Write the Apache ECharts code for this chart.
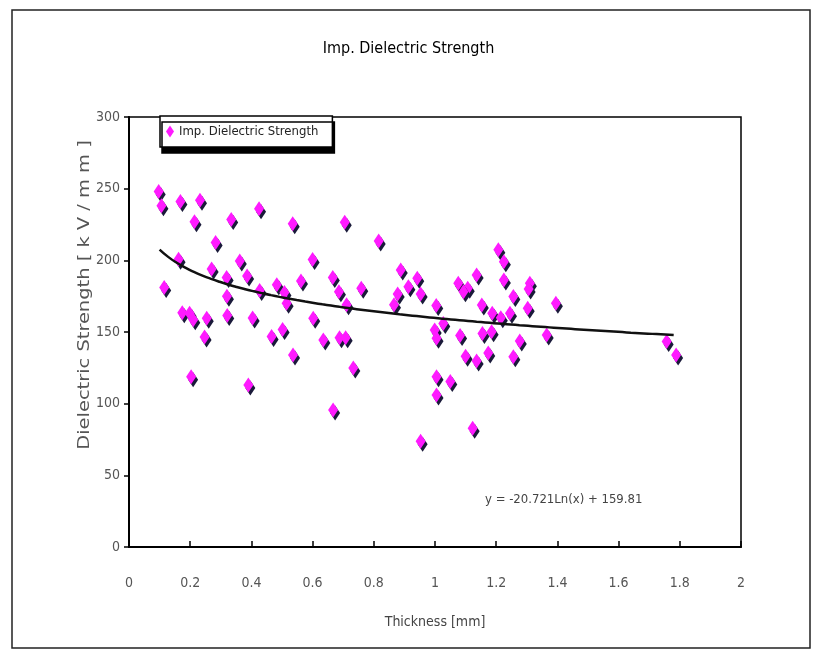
<!DOCTYPE html>
<html>
<head>
<meta charset="utf-8">
<script src="https://cdn.jsdelivr.net/npm/echarts@6/dist/echarts.min.js"></script>
<style>html,body{margin:0;padding:0;background:#fff}#c{width:817px;height:654px}</style>
</head>
<body>
<div id="c"></div>
<script>
// ---- data ----
var titleText = 'Imp. Dielectric Strength';
var seriesName = 'Imp. Dielectric Strength';
var xAxisName = 'Thickness [mm]';
var yAxisName = 'Dielectric Strength [ k V / m m ]';
var xTicks = [0, 0.2, 0.4, 0.6, 0.8, 1, 1.2, 1.4, 1.6, 1.8, 2];
var yTicks = [0, 50, 100, 150, 200, 250, 300];

var thickness = [
  0.097, 0.106, 0.168, 0.232, 0.214, 0.334, 0.425, 0.283, 0.162, 0.270,
  0.362, 0.319, 0.386, 0.427, 0.483, 0.115, 0.320, 0.174, 0.198, 0.210,
  0.254, 0.321, 0.404, 0.247, 0.466, 0.502, 0.203, 0.390,
  0.535, 0.705, 0.816, 0.600, 0.562, 0.666, 0.686, 0.759, 0.888, 0.942,
  0.913, 0.953, 0.878, 0.866, 0.711, 0.508, 0.515, 0.602, 0.635, 0.688,
  0.708, 0.536, 0.733, 0.667, 0.953,
  1.207, 1.225, 1.136, 1.076, 1.107, 1.093, 1.225, 1.310, 1.306, 1.256,
  1.395, 1.004, 1.153, 1.187, 1.215, 1.245, 1.303, 1.027, 0.999, 1.005,
  1.082, 1.155, 1.185, 1.277, 1.365, 1.100, 1.136, 1.174, 1.256, 1.005,
  1.050, 1.005, 1.123, 1.757, 1.788
];
var strength = [
  248, 238, 241, 242, 227, 228.5, 236, 212.5, 200.7, 194,
  199.5, 188, 189, 179, 183, 181, 175, 163.5, 163, 158.5,
  159.6, 161.5, 159.8, 146.5, 146.8, 151.8, 118.8, 113,
  225.6, 226.5, 213.5, 200.5, 185.5, 188, 178, 180.5, 193.3, 187.5,
  181.5, 176.5, 176.5, 169, 169, 177.5, 170, 159.6, 144.5, 146,
  146, 134, 124.8, 95.6, 73.8,
  207.3, 199, 189.8, 184, 180.5, 178, 186.3, 184, 180, 174.7,
  170, 168.5, 168.9, 163, 160, 163, 166.5, 156, 151.4, 145.6,
  147.5, 149, 150.2, 143.8, 147.9, 133, 129.8, 135.4, 132.8, 118.8,
  115.4, 106.1, 82.8, 143.3, 134
];
// logarithmic trendline printed on the chart: y = a*ln(x) + b
var trendCoef = [-20.721, 159.81];
var trendRange = [0.1, 1.78];

// ---- build ----
var scatterData = thickness.map(function (x, i) { return [x, strength[i]]; });
var trendData = [];
var steps = 60;
for (var i = 0; i <= steps; i++) {
  var x = trendRange[0] + (trendRange[1] - trendRange[0]) * i / steps;
  trendData.push([x, trendCoef[0] * Math.log(x) + trendCoef[1]]);
}
var eqText = 'y = ' + trendCoef[0] + 'Ln(x) + ' + trendCoef[1];

var FONT = "'Liberation Sans Narrow', 'DejaVu Sans Condensed', 'Liberation Sans', sans-serif";
var chart = echarts.init(document.getElementById('c'), null, {renderer: 'canvas'});
chart.setOption({
  animation: false,
  backgroundColor: '#fff',
  title: {
    text: titleText, left: 'center', top: 36,
    textStyle: {fontFamily: FONT, fontSize: 16, fontWeight: 'normal', color: '#000'}
  },
  legend: {
    data: [{name: seriesName, icon: 'diamond'}],
    left: 160, top: 116,
    orient: 'horizontal',
    itemWidth: 8, itemHeight: 12, itemGap: 4,
    padding: [9, 14, 9, 6],
    backgroundColor: '#fff',
    borderColor: '#000', borderWidth: 1.5, borderRadius: 0,
    shadowColor: '#000', shadowBlur: 0, shadowOffsetX: 2, shadowOffsetY: 6,
    textStyle: {fontFamily: FONT, fontSize: 13, color: '#222'}
  },
  grid: {
    left: 129, top: 117, right: 76, bottom: 107,
    show: true, borderColor: '#000', borderWidth: 1.5, backgroundColor: '#fff'
  },
  xAxis: {
    type: 'value', min: xTicks[0], max: xTicks[xTicks.length - 1], interval: 0.2,
    name: xAxisName, nameLocation: 'middle', nameGap: 68,
    nameTextStyle: {fontFamily: FONT, fontSize: 14, color: '#444'},
    axisLine: {lineStyle: {color: '#000', width: 2}},
    axisTick: {inside: true, length: 6, lineStyle: {color: '#000', width: 1.5}},
    axisLabel: {margin: 29, fontFamily: FONT, fontSize: 14, color: '#555',
      formatter: function (v) { return String(Math.round(v * 10) / 10); }},
    splitLine: {show: false}
  },
  yAxis: {
    type: 'value', min: yTicks[0], max: yTicks[yTicks.length - 1], interval: 50,
    axisLine: {show: true, lineStyle: {color: '#000', width: 2}},
    axisTick: {show: true, inside: false, length: 5, lineStyle: {color: '#000', width: 1.5}},
    axisLabel: {margin: 9, fontFamily: FONT, fontSize: 14, color: '#555'},
    splitLine: {show: false}
  },
  graphic: [
    {type: 'rect', silent: true, z: -10, shape: {x: 12, y: 10, width: 798, height: 638},
      style: {fill: 'none', stroke: '#222', lineWidth: 1.5}},
    {type: 'text', x: 85, y: 295, rotation: Math.PI / 2, scaleX: 1.35, scaleY: 1,
      style: {text: yAxisName, fontFamily: FONT, fontSize: 16, fill: '#555',
        textAlign: 'center', textVerticalAlign: 'middle'}},
    {type: 'text', x: 485, y: 500,
      style: {text: eqText, fontFamily: FONT, fontSize: 13, fill: '#444',
        textAlign: 'left', textVerticalAlign: 'middle'}}
  ],
  series: [
    {
      name: seriesName, type: 'scatter', data: scatterData,
      symbol: 'diamond', symbolSize: [10, 15], z: 3,
      itemStyle: {color: '#ff1aff', opacity: 1, shadowColor: '#1a1a3a', shadowBlur: 0, shadowOffsetX: 2, shadowOffsetY: 3}
    },
    {
      name: 'trend', type: 'line', data: trendData, showSymbol: false, smooth: true, z: 4,
      lineStyle: {color: '#111', width: 2.5}, silent: true
    }
  ]
});
</script>
</body>
</html>
